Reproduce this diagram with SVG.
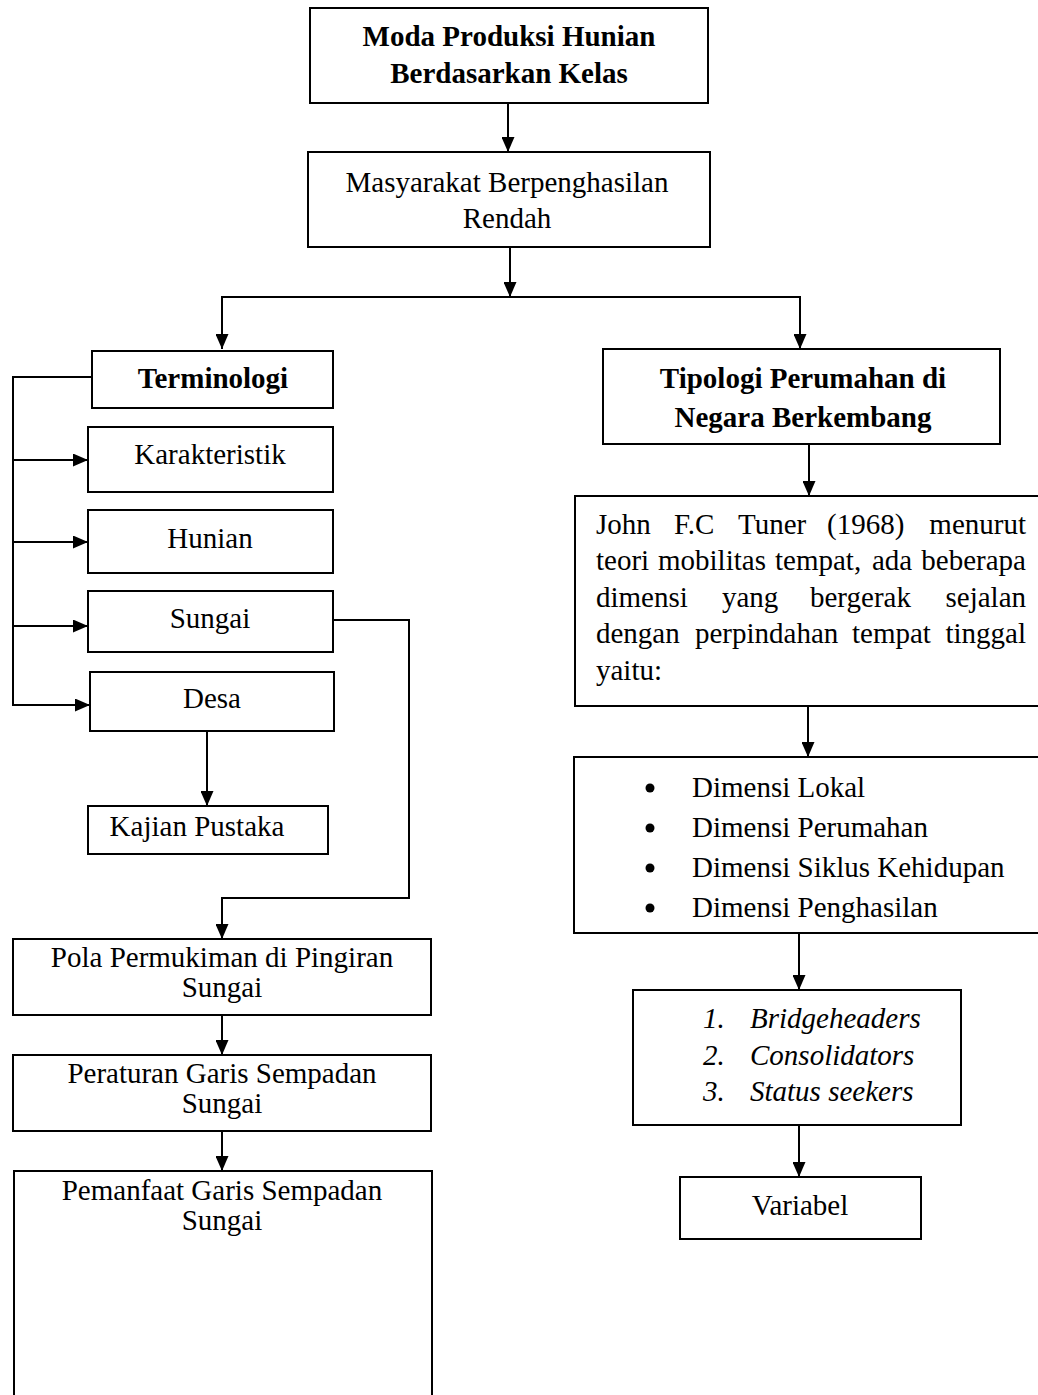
<svg xmlns="http://www.w3.org/2000/svg" width="1038" height="1395" viewBox="0 0 1038 1395">
<style>
.box{fill:#fff;stroke:#000;stroke-width:2}
.t{font-family:"Liberation Serif","Times New Roman",serif;font-size:29px;fill:#000}
.c{text-anchor:middle}
.b{font-weight:bold}
.i{font-style:italic}
.e{text-anchor:end}
.ln{fill:none;stroke:#000;stroke-width:2}
</style>
<defs>
<marker id="ah" markerUnits="userSpaceOnUse" markerWidth="15" markerHeight="13" refX="15" refY="6.5" orient="auto">
<path d="M0,0 L15,6.5 L0,13 z" fill="#000"/>
</marker>
</defs>
<rect width="1038" height="1395" fill="#fff"/>
<g id="connectors">
<path class="ln" d="M508,103 V152" marker-end="url(#ah)"/>
<path class="ln" d="M510,247 V297" marker-end="url(#ah)"/>
<path class="ln" d="M510,297 H222 V349" marker-end="url(#ah)"/>
<path class="ln" d="M510,297 H800 V349" marker-end="url(#ah)"/>
<path class="ln" d="M92,377 H13 V705 H90" marker-end="url(#ah)"/>
<path class="ln" d="M13,460 H88" marker-end="url(#ah)"/>
<path class="ln" d="M13,542 H88" marker-end="url(#ah)"/>
<path class="ln" d="M13,626 H88" marker-end="url(#ah)"/>
<path class="ln" d="M207,731 V806" marker-end="url(#ah)"/>
<path class="ln" d="M333,620 H409 V898 H222 V939" marker-end="url(#ah)"/>
<path class="ln" d="M222,1015 V1055" marker-end="url(#ah)"/>
<path class="ln" d="M222,1131 V1171" marker-end="url(#ah)"/>
<path class="ln" d="M809,444 V496" marker-end="url(#ah)"/>
<path class="ln" d="M808,706 V757" marker-end="url(#ah)"/>
<path class="ln" d="M799,933 V990" marker-end="url(#ah)"/>
<path class="ln" d="M799,1125 V1177" marker-end="url(#ah)"/>
</g>
<g id="moda">
<rect class="box" x="310" y="8" width="398" height="95"/>
<text class="t c b" x="509" y="46">Moda Produksi Hunian</text>
<text class="t c b" x="509" y="83">Berdasarkan Kelas</text>
</g>
<g id="masyarakat">
<rect class="box" x="308" y="152" width="402" height="95"/>
<text class="t c" x="507" y="192">Masyarakat Berpenghasilan</text>
<text class="t c" x="507" y="228">Rendah</text>
</g>
<g id="terminologi">
<rect class="box" x="92" y="351" width="241" height="57"/>
<text class="t c b" x="213" y="388">Terminologi</text>
</g>
<g id="karakteristik">
<rect class="box" x="88" y="427" width="245" height="65"/>
<text class="t c" x="210" y="464">Karakteristik</text>
</g>
<g id="hunian">
<rect class="box" x="88" y="510" width="245" height="63"/>
<text class="t c" x="210" y="548">Hunian</text>
</g>
<g id="sungai">
<rect class="box" x="88" y="591" width="245" height="61"/>
<text class="t c" x="210" y="628">Sungai</text>
</g>
<g id="desa">
<rect class="box" x="90" y="672" width="244" height="59"/>
<text class="t c" x="212" y="708">Desa</text>
</g>
<g id="kajian">
<rect class="box" x="88" y="806" width="240" height="48"/>
<text class="t c" x="197" y="836">Kajian Pustaka</text>
</g>
<g id="pola">
<rect class="box" x="13" y="939" width="418" height="76"/>
<text class="t c" x="222" y="967">Pola Permukiman di Pingiran</text>
<text class="t c" x="222" y="997">Sungai</text>
</g>
<g id="peraturan">
<rect class="box" x="13" y="1055" width="418" height="76"/>
<text class="t c" x="222" y="1083">Peraturan Garis Sempadan</text>
<text class="t c" x="222" y="1113">Sungai</text>
</g>
<g id="pemanfaat">
<rect class="box" x="14" y="1171" width="418" height="240"/>
<text class="t c" x="222" y="1200">Pemanfaat Garis Sempadan</text>
<text class="t c" x="222" y="1230">Sungai</text>
</g>
<g id="tipologi">
<rect class="box" x="603" y="349" width="397" height="95"/>
<text class="t c b" x="803" y="388">Tipologi Perumahan di</text>
<text class="t c b" x="803" y="427">Negara Berkembang</text>
</g>
<g id="john">
<rect class="box" x="575" y="496" width="475" height="210"/>
<text class="t" y="534"><tspan x="596">John</tspan><tspan x="674">F.C</tspan><tspan x="738">Tuner</tspan><tspan x="827">(1968)</tspan></text>
<text class="t e" x="1026" y="534">menurut</text>
<text class="t" y="570"><tspan x="596">teori</tspan><tspan x="658">mobilitas</tspan><tspan x="775">tempat,</tspan><tspan x="872">ada</tspan></text>
<text class="t e" x="1026" y="570">beberapa</text>
<text class="t" y="607"><tspan x="596">dimensi</tspan><tspan x="722">yang</tspan><tspan x="810">bergerak</tspan></text>
<text class="t e" x="1026" y="607">sejalan</text>
<text class="t" y="643"><tspan x="596">dengan</tspan><tspan x="695">perpindahan</tspan><tspan x="852">tempat</tspan></text>
<text class="t e" x="1026" y="643">tinggal</text>
<text class="t" x="596" y="680">yaitu:</text>
</g>
<g id="dimensi">
<rect class="box" x="574" y="757" width="476" height="176"/>
<circle cx="650" cy="788" r="4.5"/>
<circle cx="650" cy="828" r="4.5"/>
<circle cx="650" cy="868" r="4.5"/>
<circle cx="650" cy="908" r="4.5"/>
<text class="t" x="692" y="797">Dimensi Lokal</text>
<text class="t" x="692" y="837">Dimensi Perumahan</text>
<text class="t" x="692" y="877">Dimensi Siklus Kehidupan</text>
<text class="t" x="692" y="917">Dimensi Penghasilan</text>
</g>
<g id="tipe">
<rect class="box" x="633" y="990" width="328" height="135"/>
<text class="t i" x="703" y="1028">1.</text>
<text class="t i" x="750" y="1028">Bridgeheaders</text>
<text class="t i" x="703" y="1065">2.</text>
<text class="t i" x="750" y="1065">Consolidators</text>
<text class="t i" x="703" y="1101">3.</text>
<text class="t i" x="750" y="1101">Status seekers</text>
</g>
<g id="variabel">
<rect class="box" x="680" y="1177" width="241" height="62"/>
<text class="t c" x="800" y="1215">Variabel</text>
</g>
</svg>
